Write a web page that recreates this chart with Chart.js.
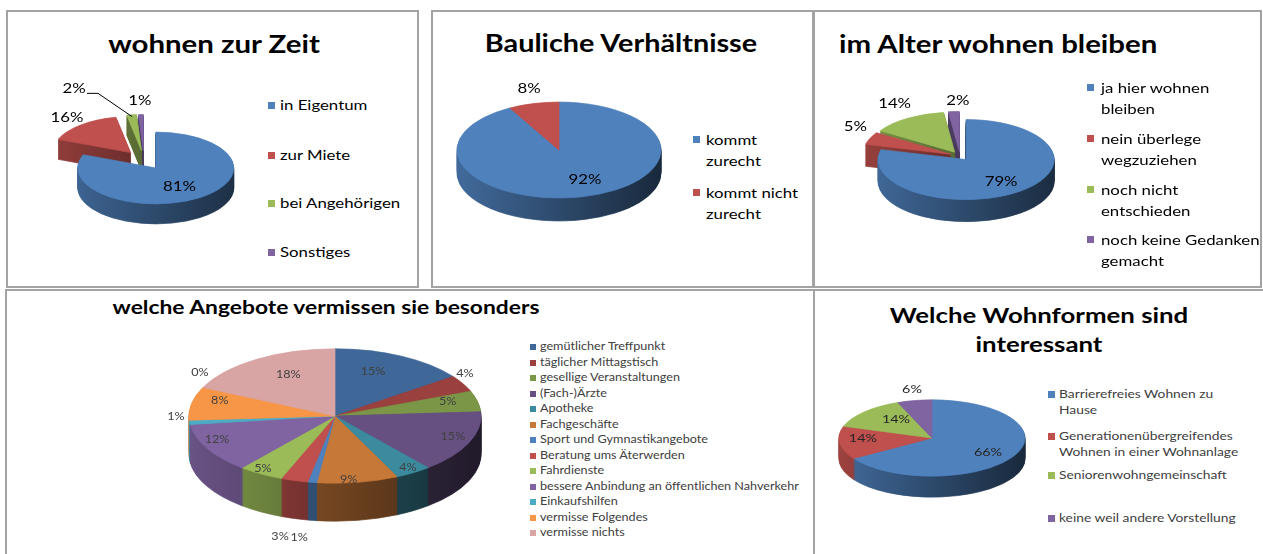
<!DOCTYPE html>
<html lang="de">
<head>
<meta charset="UTF-8">
<title>Wohnen im Alter</title>
<script src="https://cdn.jsdelivr.net/npm/chart.js"></script>
<style>
  body { margin: 0; background: #fff; font-family: Lato, "Noto Sans", sans-serif; }
  #page { position: relative; width: 1263px; height: 554px; overflow: hidden; }
  .panel { position: absolute; box-sizing: border-box; border: 2px solid #a3a3a3; }
  .title { position: absolute; font-weight: bold; color: #000; white-space: nowrap; line-height: 1.2; text-align: center; }
  .pie { position: absolute; }
  .item { position: absolute; white-space: nowrap; transform-origin: 0 0; transform: scaleX(1.2); }
  .sq { position: absolute; }
</style>
</head>
<body>
<div id="page">
  <div class="panel" style="left:6px;top:10px;width:413px;height:278px"></div>
  <div class="panel" style="left:431px;top:10px;width:383px;height:278px"></div>
  <div class="panel" style="left:813px;top:10px;width:449px;height:278px"></div>
  <div class="panel" style="left:5px;top:289px;width:810px;height:280px"></div>
  <div class="panel" style="left:813px;top:289px;width:460px;height:280px"></div>

  <div class="title" style="left:214px;top:29px;font-size:24.5px;transform:translateX(-50%) scaleX(1.2)">wohnen zur Zeit</div>
  <div class="title" style="left:621px;top:29px;font-size:24px;transform:translateX(-50%) scaleX(1.2)">Bauliche Verhältnisse</div>
  <div class="title" style="left:839px;top:29px;font-size:24.5px;text-align:left;transform-origin:0 0;transform:scaleX(1.2)">im Alter wohnen bleiben</div>
  <div class="title" style="left:326px;top:296px;font-size:19px;transform:translateX(-50%) scaleX(1.2)">welche Angebote vermissen sie besonders</div>
  <div class="title" style="left:1039px;top:301px;font-size:21.5px;line-height:29px;transform:translateX(-50%) scaleX(1.2)">Welche Wohnformen sind<br>interessant</div>

  <canvas id="zeit" class="pie" width="240" height="200" style="left:24px;top:60px"></canvas>
  <canvas id="bau" class="pie" width="250" height="200" style="left:434px;top:50px"></canvas>
  <canvas id="alter" class="pie" width="260" height="200" style="left:830px;top:56px"></canvas>
  <canvas id="angebot" class="pie" width="360" height="270" style="left:155px;top:281px"></canvas>
  <canvas id="form" class="pie" width="220" height="150" style="left:822px;top:363px"></canvas>

  <div id="leg-zeit"></div>
  <div id="leg-bau"></div>
  <div id="leg-alter"></div>
  <div id="leg-angebot"></div>
  <div id="leg-form"></div>
</div>

<script>
// wohnen zur Zeit
const zeitLabels = ['in Eigentum', 'zur Miete', 'bei Angehörigen', 'Sonstiges'];
const zeitValues = [81, 16, 2, 1];

// Bauliche Verhältnisse
const bauLabels = [['kommt', 'zurecht'], ['kommt nicht', 'zurecht']];
const bauValues = [92, 8];

// im Alter wohnen bleiben
const alterLabels = [['ja hier wohnen', 'bleiben'], ['nein überlege', 'wegzuziehen'],
                     ['noch nicht', 'entschieden'], ['noch keine Gedanken', 'gemacht']];
const alterValues = [79, 5, 14, 2];

// welche Angebote vermissen sie besonders (13. Eintrag ohne Legende, 0%)
const angebotLabels = ['gemütlicher Treffpunkt', 'täglicher Mittagstisch', 'gesellige Veranstaltungen',
  '(Fach-)Ärzte', 'Apotheke', 'Fachgeschäfte', 'Sport und Gymnastikangebote', 'Beratung ums Äterwerden',
  'Fahrdienste', 'bessere Anbindung an öffentlichen Nahverkehr', 'Einkaufshilfen', 'vermisse Folgendes',
  '', 'vermisse nichts'];
const angebotValues = [15, 4, 5, 15, 4, 9, 1, 3, 5, 12, 1, 8, 0, 18];

// Welche Wohnformen sind interessant
const formLabels = [['Barrierefreies Wohnen zu', 'Hause'], ['Generationenübergreifendes', 'Wohnen in einer Wohnanlage'],
                    'Seniorenwohngemeinschaft', 'keine weil andere Vorstellung'];
const formValues = [66, 14, 14, 6];

// Office-Farben
const officeColors = ['#4F81BD', '#C0504D', '#9BBB59', '#8064A2'];
const angebotColors = ['#3F6797', '#9A403E', '#7C9647', '#665082', '#3C8A9E', '#C67838',
  '#4F81BD', '#C0504D', '#9BBB59', '#8064A2', '#4BACC6', '#F79646', '#95B3D7', '#D9A5A4'];

const SX = 1.2; // die Vorlage ist waagerecht gestreckt

function shade(hex, f) {
  const n = parseInt(hex.slice(1), 16);
  const r = Math.round(((n >> 16) & 255) * f), g = Math.round(((n >> 8) & 255) * f), b = Math.round((n & 255) * f);
  return `rgb(${r},${g},${b})`;
}

// 3D-Torte: gekippte Oberseite, Rand aus versetzten Kopien, Prozentwerte
function pie3d(o) {
  const dirOf = arc => (arc.startAngle + arc.endAngle) / 2;
  function paint(ctx, arc, fill, ex, dy) {
    const a = dirOf(arc);
    ctx.save();
    ctx.translate(Math.cos(a) * ex, Math.sin(a) * ex + dy);
    if (fill) {
      const ghost = Object.create(arc);
      ghost.options = Object.assign({}, arc.options, { backgroundColor: fill, borderColor: fill });
      arc.draw.call(ghost, ctx);
    } else {
      arc.draw(ctx);
    }
    ctx.restore();
  }
  return {
    id: 'pie3d',
    beforeDatasetsDraw(chart) {
      const ctx = chart.ctx;
      const arcs = chart.getDatasetMeta(0).data;
      const colors = chart.data.datasets[0].backgroundColor;
      const cx = arcs[0].x, cy = arcs[0].y, r = arcs[0].outerRadius;
      const ex = o.explode || 0;
      ctx.save();
      ctx.translate(cx, cy);
      ctx.scale(1, o.tilt);
      ctx.translate(-cx, -cy);
      const sides = colors.map(c => {
        const g = ctx.createLinearGradient(cx - r - ex, 0, cx + r + ex, 0);
        g.addColorStop(0, shade(c, 0.82));
        g.addColorStop(1, shade(c, 0.32));
        return g;
      });
      for (let d = o.depth; d > 0; d--) {
        arcs.forEach((arc, i) => paint(ctx, arc, sides[i], ex, d / o.tilt));
      }
      arcs.forEach(arc => paint(ctx, arc, null, ex, 0));
      ctx.restore();
      return false;
    },
    afterDraw(chart) {
      const ctx = chart.ctx;
      const arcs = chart.getDatasetMeta(0).data;
      const values = chart.data.datasets[0].data;
      const total = values.reduce((s, v) => s + v, 0);
      const cx = arcs[0].x, cy = arcs[0].y, r = arcs[0].outerRadius;
      const ex = o.explode || 0;
      ctx.save();
      ctx.font = `${o.font}px Lato`;
      ctx.fillStyle = o.color;
      ctx.strokeStyle = o.color;
      ctx.textAlign = 'center';
      ctx.textBaseline = 'middle';
      arcs.forEach((arc, i) => {
        const p = o.labels[i];
        const a = dirOf(arc) + (p.da || 0) * Math.PI / 180;
        const d = ex + p.f * r;
        const x = cx + Math.cos(a) * d, y = cy + Math.sin(a) * d * o.tilt;
        ctx.save();
        ctx.translate(x, y);
        ctx.scale(SX, 1);
        ctx.fillText(Math.round(values[i] / total * 100) + '%', 0, 0);
        ctx.restore();
        if (p.leader) {
          const m = dirOf(arc), dd = ex + 0.95 * r;
          ctx.lineWidth = 1;
          ctx.beginPath();
          ctx.moveTo(x + 13, y + 5);
          ctx.lineTo(x + 24, y + 5);
          ctx.lineTo(cx + Math.cos(m) * dd, cy + Math.sin(m) * dd * o.tilt);
          ctx.stroke();
        }
      });
      ctx.restore();
    }
  };
}

function makePie(id, labels, values, colors, o) {
  return new Chart(document.getElementById(id), {
    type: 'pie',
    data: {
      labels: labels,
      datasets: [{ data: values, backgroundColor: colors, borderColor: colors, borderWidth: 1, radius: o.r, clip: false }]
    },
    options: {
      responsive: false,
      animation: false,
      events: [],
      plugins: { legend: { display: false }, tooltip: { enabled: false } }
    },
    plugins: [pie3d(o)]
  });
}

function makeLegend(id, labels, colors, o) {
  const box = document.getElementById(id);
  let row = 0;
  labels.forEach((lab, i) => {
    if (lab === '') return;
    const y = o.ys[row++];
    const sq = document.createElement('div');
    sq.className = 'sq';
    sq.style.cssText = `left:${o.sqX}px;top:${y - o.sq / 2}px;width:${o.sq}px;height:${o.sq}px;background:${colors[i]}`;
    box.appendChild(sq);
    const t = document.createElement('div');
    t.className = 'item';
    t.style.cssText = `left:${o.textX}px;top:${y - o.lh / 2}px;line-height:${o.lh}px;font-size:${o.fs}px;color:${o.color}`;
    t.innerHTML = [].concat(lab).join('<br>');
    box.appendChild(t);
  });
}

makePie('zeit', zeitLabels, zeitValues, officeColors, {
  r: 78, tilt: 0.46, depth: 20, explode: 21, font: 14, color: '#000',
  labels: [{ f: 0.61, da: 3 }, { f: 1.28 }, { f: 1.92, da: -17, leader: true }, { f: 1.40 }]
});
makePie('bau', bauLabels, bauValues, officeColors, {
  r: 102, tilt: 0.47, depth: 23, font: 14, color: '#000',
  labels: [{ f: 0.67, da: -8 }, { f: 1.32, da: 1.6 }]
});
makePie('alter', alterLabels, alterValues, officeColors, {
  r: 88, tilt: 0.455, depth: 22, explode: 10, font: 14, color: '#000',
  labels: [{ f: 0.685, da: 2 }, { f: 1.28, da: 8 }, { f: 1.40, da: 3 }, { f: 1.28, da: 2.6 }]
});
makePie('angebot', angebotLabels, angebotValues, angebotColors, {
  r: 146, tilt: 0.46, depth: 38, font: 10.5, color: '#404040',
  labels: [{ f: 0.705, da: -5.3 }, { f: 1.088, da: -6.3 }, { f: 0.80, da: -2.5 }, { f: 0.866, da: -2.2 },
           { f: 0.92, da: -0.5 }, { f: 0.947, da: 3.3 }, { f: 1.83, da: -1.3 }, { f: 1.84, da: -4.4 },
           { f: 0.93, da: 1.5 }, { f: 0.884, da: 4.9 }, { f: 1.09, da: 4.6 }, { f: 0.82, da: 5 },
           { f: 1.125, da: 9.5 }, { f: 0.70, da: 5.2 }]
});
makePie('form', formLabels, formValues, officeColors, {
  r: 93, tilt: 0.41, depth: 21, font: 12, color: '#262626',
  labels: [{ f: 0.705, da: 2.5 }, { f: 0.742, da: 7.2 }, { f: 0.63, da: 8.9 }, { f: 1.30, da: 1.3 }]
});

makeLegend('leg-zeit', zeitLabels, officeColors, { sqX: 268, sq: 7, textX: 280, ys: [105, 155, 203, 252], lh: 20, fs: 14, color: '#000' });
makeLegend('leg-bau', bauLabels, officeColors, { sqX: 693, sq: 7, textX: 706, ys: [139, 192], lh: 21, fs: 14, color: '#000' });
makeLegend('leg-alter', alterLabels, officeColors, { sqX: 1087, sq: 7, textX: 1101, ys: [87, 138, 189, 239], lh: 21, fs: 14, color: '#000' });
makeLegend('leg-angebot', angebotLabels, angebotColors, {
  sqX: 530, sq: 6, textX: 540, lh: 15.5, fs: 10.5, color: '#404040',
  ys: [347, 362.5, 378, 393.5, 409, 424.5, 440, 455.5, 471, 486.5, 502, 517.5, 533]
});
makeLegend('leg-form', formLabels, officeColors, { sqX: 1048, sq: 7, textX: 1059, ys: [394, 436, 475, 518], lh: 16, fs: 11.5, color: '#404040' });
</script>
</body>
</html>
